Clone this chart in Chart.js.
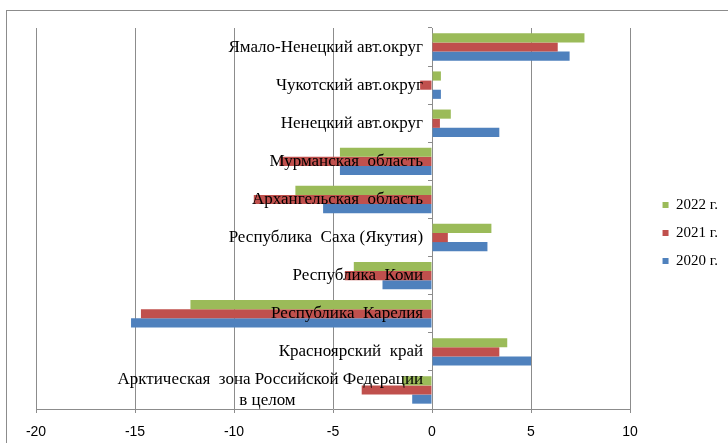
<!DOCTYPE html>
<html>
<head>
<meta charset="utf-8">
<script src="https://cdn.jsdelivr.net/npm/chart.js@4"></script>
<style>
  html, body { margin: 0; padding: 0; background: #fff; }
  #wrap { position: relative; width: 728px; height: 443px; overflow: hidden; }
  #frame { position: absolute; left: 6px; top: 10px; width: 800px; height: 500px; border: 1.5px solid #8c8c8c; }
  canvas { position: absolute; left: 0; top: 0; }
</style>
</head>
<body>
<div id="wrap">
  <div id="frame"></div>
  <canvas id="chart" width="728" height="443"></canvas>
</div>
<script>
  'use strict';

  // ---- Data ----
  const regions = [
    'Ямало-Ненецкий авт.округ',
    'Чукотский авт.округ',
    'Ненецкий авт.округ',
    'Мурманская  область',
    'Архангельская  область',
    'Республика  Саха (Якутия)',
    'Республика  Коми',
    'Республика  Карелия',
    'Красноярский  край',
    ['Арктическая  зона Российской Федерации', 'в целом' + ' '.repeat(30)]
  ];
  const years = ['2022 г.', '2021 г.', '2020 г.'];
  const values2022 = [7.7, 0.45, 0.95, -4.65, -6.9, 3.0, -3.95, -12.2, 3.8, -1.5];
  const values2021 = [6.35, -0.6, 0.4, -7.7, -9.0, 0.8, -4.4, -14.7, 3.4, -3.55];
  const values2020 = [6.95, 0.45, 3.4, -4.65, -5.5, 2.8, -2.5, -15.2, 5.0, -1.0];
  const xTicks = [-20, -15, -10, -5, 0, 5, 10];
  const colors = ['#9bbb59', '#c0504d', '#4f81bd'];

  // ---- Legend sits in a wider column than it needs ----
  const legendColumn = {
    id: 'legendColumn',
    beforeInit(chart) {
      const fit = chart.legend.fit;
      chart.legend.fit = function () {
        fit.call(this);
        this._extra = 98 - this.width;
        this.width = 98;
      };
    },
    afterLayout(chart) {
      chart.legend.left += chart.legend._extra;
    }
  };

  const noPad = scale => { scale.paddingTop = 0; scale.paddingBottom = 0; };

  // ---- Chart ----
  function renderChart() {
    const ctx = document.getElementById('chart').getContext('2d');
    const serif = 'Liberation Serif';

    new Chart(ctx, {
      type: 'bar',
      data: {
        labels: regions,
        datasets: [values2022, values2021, values2020].map((data, i) => ({
          label: years[i],
          data,
          backgroundColor: colors[i],
          borderWidth: 0,
          categoryPercentage: 0.72,
          barPercentage: 1
        }))
      },
      options: {
        indexAxis: 'y',
        responsive: false,
        animation: false,
        layout: { padding: { left: 36, top: 28, bottom: 5, right: 0 } },
        plugins: {
          tooltip: { enabled: false },
          legend: {
            position: 'right',
            labels: {
              font: { family: serif, size: 15 },
              color: '#000',
              boxWidth: 6,
              boxHeight: 6,
              padding: 13
            }
          }
        },
        scales: {
          x: {
            min: -20,
            max: 10,
            afterBuildTicks: axis => { axis.ticks = xTicks.map(v => ({ value: v })); },
            afterFit: scale => { scale.height = 29; },
            grid: { color: '#8c8c8c', tickLength: 4 },
            border: { color: '#8c8c8c' },
            ticks: { color: '#000', font: { family: 'Liberation Sans', size: 14 }, padding: 11 }
          },
          // axis line and tick marks at zero
          y: {
            position: { x: 0 },
            afterFit: noPad,
            grid: { drawOnChartArea: false, color: '#8c8c8c', tickLength: 4, offset: true },
            border: { color: '#8c8c8c' },
            ticks: { display: false }
          },
          // category names, a little left of zero and over the bars
          yLabels: {
            type: 'category',
            position: { x: -0.45 },
            offset: true,
            afterFit: noPad,
            grid: { display: false },
            border: { display: false },
            ticks: { color: '#000', font: { family: serif, size: 17 }, autoSkip: false, z: 1 }
          }
        }
      },
      plugins: [legendColumn]
    });
  }

  renderChart();
</script>
</body>
</html>
